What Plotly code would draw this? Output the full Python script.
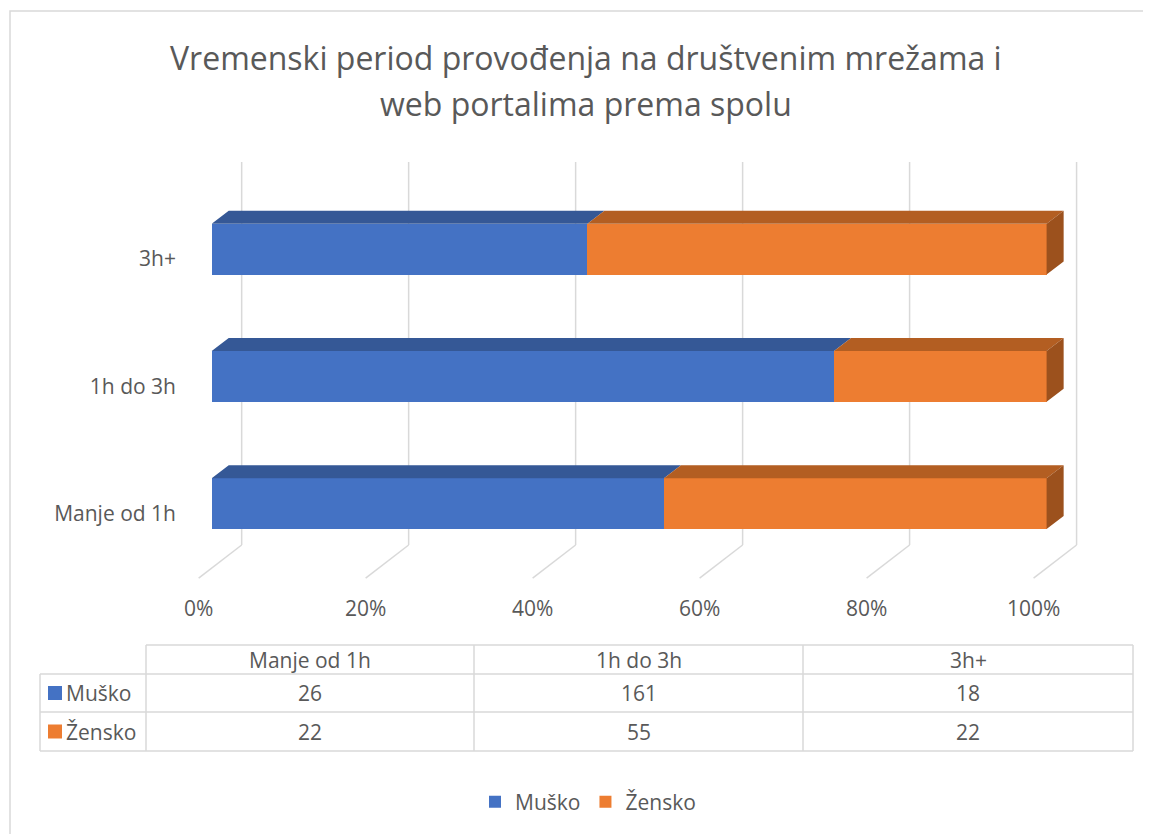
import plotly.graph_objects as go

# data
categories = ["Manje od 1h", "1h do 3h", "3h+"]
musko = [26, 161, 18]
zensko = [22, 55, 22]
series_names = ["Muško", "Žensko"]
x_ticks = [0, 0.2, 0.4, 0.6, 0.8, 1.0]

# page body has an 8px margin, so the figure starts at (8, 8) on screen
OFF = 8
W, H = 1143, 826
L, R, T, B = 187, 71, 152, 254
PW, PH = W - L - R, H - T - B

FONT = "Open Sans"
TXT = "#595959"
GRID = "#D9D9D9"
front = ["#4472C4", "#ED7D31"]
top = ["#355896", "#B35E22"]
side_orange = "#9C511D"


def px(x):
    # screen pixel -> paper x
    return (x - OFF - L) / PW


def py(y):
    # screen pixel -> paper y
    return (H - B - (y - OFF)) / PH


share_m = [m / (m + z) for m, z in zip(musko, zensko)]
share_z = [z / (m + z) for m, z in zip(musko, zensko)]
ypos = list(range(len(categories)))

bar_w = 0.4
dx, dy = 0.0204, 0.102  # 3d depth offset in axis units

fig = go.Figure()
fig.add_trace(go.Bar(y=ypos, x=share_m, orientation="h", name=series_names[0], width=bar_w,
                     marker=dict(color=front[0], line=dict(width=0)), hoverinfo="skip"))
fig.add_trace(go.Bar(y=ypos, x=share_z, orientation="h", name=series_names[1], width=bar_w,
                     marker=dict(color=front[1], line=dict(width=0)), hoverinfo="skip"))


def poly_trace(xs, ys, color):
    return go.Scatter(x=xs, y=ys, mode="lines", fill="toself", fillcolor=color,
                      line=dict(width=0, color=color), showlegend=False, hoverinfo="skip")


# top faces
for k, (starts, ends) in enumerate([([0] * len(share_m), share_m),
                                    (share_m, [m + z for m, z in zip(share_m, share_z)])]):
    xs, ys = [], []
    for yc, a, b in zip(ypos, starts, ends):
        yt = yc + bar_w / 2
        xs += [a, a + dx, b + dx, b, a, None]
        ys += [yt, yt + dy, yt + dy, yt, yt, None]
    fig.add_trace(poly_trace(xs, ys, top[k]))

# right side face of last segment
xs, ys = [], []
for yc, m, z in zip(ypos, share_m, share_z):
    e = m + z
    yt, yb = yc + bar_w / 2, yc - bar_w / 2
    xs += [e, e + dx, e + dx, e, e, None]
    ys += [yt, yt + dy, yb + dy, yb, yt, None]
fig.add_trace(poly_trace(xs, ys, side_orange))

shapes = []
# back gridlines and floor lines
gx, gb, gt = 0.0359, -0.325, 2.684
fx, fy = -0.0156, -0.5846
for v in x_ticks:
    shapes.append(dict(type="line", xref="x", yref="y", x0=v + gx, x1=v + gx, y0=gb, y1=gt,
                       line=dict(color=GRID, width=1.5), layer="below"))
    shapes.append(dict(type="line", xref="x", yref="y", x0=v + gx, x1=v + fx, y0=gb, y1=fy,
                       line=dict(color=GRID, width=1.5), layer="below"))

# outer chart border
shapes.append(dict(type="rect", xref="paper", yref="paper", x0=px(10), x1=px(1165), y0=py(11), y1=py(900),
                   line=dict(color=GRID, width=1.5)))

# data table
col_x = [146, 474, 803, 1133]
row_y = [645, 674, 712, 751]
tline = dict(color=GRID, width=1.5)
shapes.append(dict(type="line", xref="paper", yref="paper", x0=px(col_x[0]), x1=px(col_x[-1]),
                   y0=py(row_y[0]), y1=py(row_y[0]), line=tline))
for ry in row_y[1:]:
    shapes.append(dict(type="line", xref="paper", yref="paper", x0=px(40), x1=px(col_x[-1]),
                       y0=py(ry), y1=py(ry), line=tline))
for cx in col_x:
    shapes.append(dict(type="line", xref="paper", yref="paper", x0=px(cx), x1=px(cx),
                       y0=py(row_y[0]), y1=py(row_y[-1]), line=tline))
shapes.append(dict(type="line", xref="paper", yref="paper", x0=px(40), x1=px(40),
                   y0=py(row_y[1]), y1=py(row_y[-1]), line=tline))

annotations = []
title_lines = ["Vremenski period provođenja na društvenim mrežama i", "web portalima prema spolu"]
for t, ty in zip(title_lines, [57, 103]):
    annotations.append(dict(text=t, xref="paper", yref="paper", x=px(586), y=py(ty),
                            xanchor="center", yanchor="middle", showarrow=False,
                            font=dict(family=FONT, size=32, color=TXT)))

tfont = dict(family=FONT, size=21, color=TXT)
for i, c in enumerate(categories):
    cx = (col_x[i] + col_x[i + 1]) / 2
    annotations.append(dict(text=c, xref="paper", yref="paper", x=px(cx), y=py((row_y[0] + row_y[1]) / 2),
                            xanchor="center", yanchor="middle", showarrow=False, font=tfont))
    for r, vals in enumerate([musko, zensko]):
        annotations.append(dict(text=str(vals[i]), xref="paper", yref="paper", x=px(cx),
                                y=py((row_y[r + 1] + row_y[r + 2]) / 2),
                                xanchor="center", yanchor="middle", showarrow=False, font=tfont))
for r, name in enumerate(series_names):
    yc = (row_y[r + 1] + row_y[r + 2]) / 2
    shapes.append(dict(type="rect", xref="paper", yref="paper", x0=px(48), x1=px(62),
                       y0=py(yc - 7), y1=py(yc + 7), fillcolor=front[r], line=dict(width=0)))
    annotations.append(dict(text=name, xref="paper", yref="paper", x=px(64), y=py(yc),
                            xanchor="left", yanchor="middle", showarrow=False, font=tfont))

fig.update_layout(
    width=W, height=H,
    margin=dict(l=L, r=R, t=T, b=B),
    paper_bgcolor="white", plot_bgcolor="white",
    barmode="stack",
    font=dict(family=FONT, size=21, color=TXT),
    xaxis=dict(range=[-0.02, 1.04], tickvals=x_ticks, tickformat=".0%", showgrid=False,
               zeroline=False, showline=False, ticks="", ticklabelshift=-13, ticklabelstandoff=14,
               fixedrange=True),
    yaxis=dict(range=[-0.6, 2.7], tickvals=ypos, ticktext=categories, showgrid=False,
               zeroline=False, showline=False, ticks="", ticklabelshift=10, ticklabelstandoff=18,
               fixedrange=True),
    legend=dict(orientation="h", x=px(588), xanchor="center", y=py(802), yanchor="middle",
                font=dict(family=FONT, size=21, color=TXT), traceorder="normal"),
    shapes=shapes,
    annotations=annotations,
    showlegend=True,
)

fig.write_html("out.html")
